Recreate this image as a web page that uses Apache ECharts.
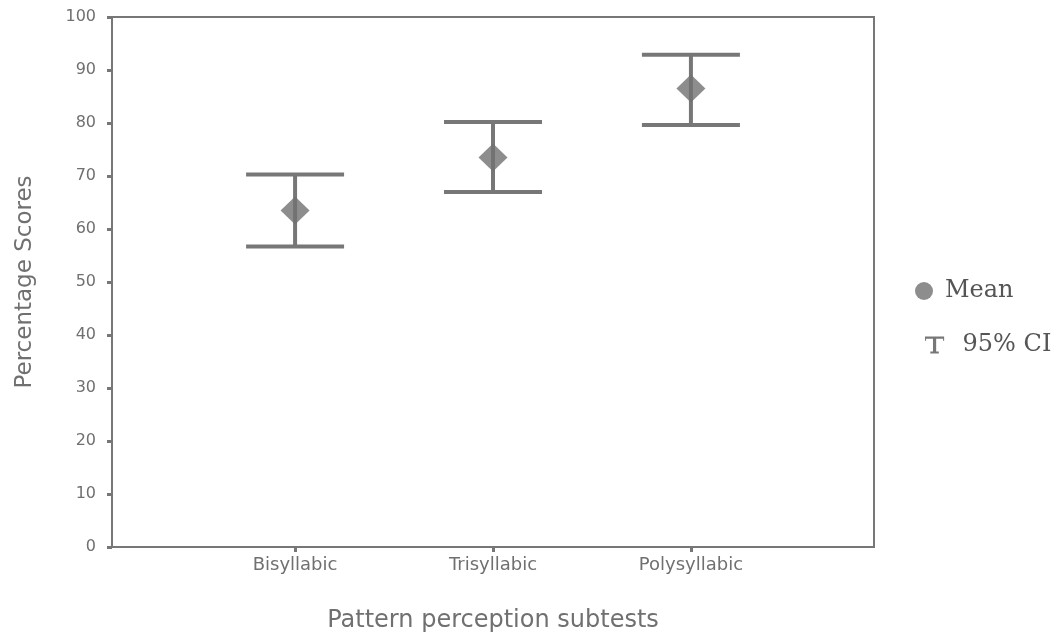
<!DOCTYPE html>
<html>
<head>
<meta charset="utf-8">
<script src="https://cdn.jsdelivr.net/npm/echarts@6/dist/echarts.min.js"></script>
<style>html,body{margin:0;padding:0;background:#fff}#c{width:1058px;height:643px}</style>
</head>
<body>
<div id="c"></div>
<script>
// ---- data ----
const categories = ['Bisyllabic', 'Trisyllabic', 'Polysyllabic'];
const positions = [1, 2, 3];
const means = [63.5, 73.5, 86.5];
const ciLower = [56.7, 67.0, 79.6];
const ciUpper = [70.3, 80.2, 92.9];
const yTicks = [0, 100, 10]; // min, max, interval

const grey = '#777777';
const textGrey = '#707070';

const chart = echarts.init(document.getElementById('c'), null, {renderer: 'canvas'});

const ciData = positions.map((p, i) => [p, ciLower[i], ciUpper[i]]);
const meanData = positions.map((p, i) => [p, means[i]]);

chart.setOption({
  backgroundColor: '#ffffff',
  animation: false,
  grid: {
    left: 112, right: 184, top: 17, bottom: 96,
    show: true, borderColor: grey, borderWidth: 2, backgroundColor: 'transparent'
  },
  legend: [
    {
      orient: 'vertical', left: 915, top: 279, padding: 0,
      itemWidth: 32, itemHeight: 18,
      data: [{name: 'Mean', icon: 'circle'}],
      textStyle: {fontFamily: 'DejaVu Serif', fontSize: 24, color: '#555'}
    },
    {
      orient: 'vertical', left: 925, top: 333, padding: 0,
      itemWidth: 46, itemHeight: 17,
      data: [{name: '95% CI', icon: 'path://M0,0H18V4H17V2H10.5V14H13V16H5V14H7.5V2H1V4H0Z'}],
      textStyle: {fontFamily: 'DejaVu Serif', fontSize: 24, color: '#555'}
    }
  ],
  xAxis: {
    type: 'value', min: 0.075, max: 3.925,
    name: 'Pattern perception subtests', nameLocation: 'middle', nameGap: 62,
    nameTextStyle: {fontFamily: 'DejaVu Sans', fontSize: 24, color: textGrey},
    axisLine: {show: true, lineStyle: {color: grey, width: 2}},
    axisTick: {show: true, length: 5, lineStyle: {color: grey, width: 3}, customValues: positions},
    axisLabel: {
      customValues: positions, margin: 9,
      fontFamily: 'DejaVu Sans', fontSize: 18, color: textGrey,
      formatter: v => categories[Math.round(v) - 1] || ''
    },
    splitLine: {show: false}
  },
  yAxis: {
    type: 'value', min: yTicks[0], max: yTicks[1], interval: yTicks[2],
    name: 'Percentage Scores', nameLocation: 'middle', nameGap: 75,
    nameTextStyle: {fontFamily: 'DejaVu Sans', fontSize: 23, color: textGrey},
    axisLine: {show: true, lineStyle: {color: grey, width: 2}},
    axisTick: {show: true, length: 5, lineStyle: {color: grey, width: 3}},
    axisLabel: {margin: 16, fontFamily: 'DejaVu Sans', fontSize: 16, color: textGrey},
    splitLine: {show: false}
  },
  series: [
    {
      name: '95% CI',
      type: 'custom',
      itemStyle: {color: grey},
      data: ciData,
      encode: {x: 0, y: [1, 2]},
      renderItem: function (params, api) {
        const x = api.value(0);
        const lo = api.coord([x, api.value(1)]);
        const hi = api.coord([x, api.value(2)]);
        const hw = 49;
        const style = {stroke: grey, lineWidth: 4, fill: null};
        return {
          type: 'group',
          children: [
            {type: 'line', shape: {x1: lo[0], y1: lo[1], x2: hi[0], y2: hi[1]}, style: style},
            {type: 'line', shape: {x1: hi[0] - hw, y1: hi[1], x2: hi[0] + hw, y2: hi[1]}, style: style},
            {type: 'line', shape: {x1: lo[0] - hw, y1: lo[1], x2: lo[0] + hw, y2: lo[1]}, style: style}
          ]
        };
      },
      z: 2
    },
    {
      name: 'Mean',
      type: 'scatter',
      symbol: 'diamond',
      symbolSize: [29, 28],
      itemStyle: {color: '#707070'},
      data: meanData,
      z: 3
    }
  ]
});
</script>
</body>
</html>
